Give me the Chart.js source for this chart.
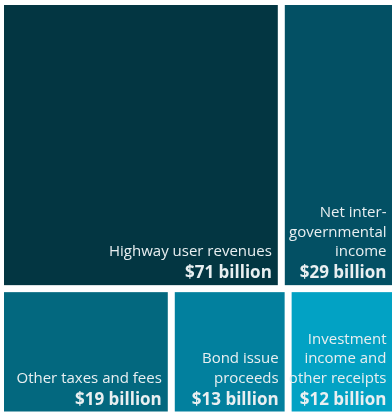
<!DOCTYPE html>
<html>
<head>
<meta charset="utf-8">
<script src="https://cdn.jsdelivr.net/npm/chart.js@4"></script>
<style>
  html, body { margin: 0; padding: 0; background: #fff; overflow: hidden; }
  #wrap { position: absolute; left: 0; top: 0; width: 396px; height: 415px; }
</style>
</head>
<body>
<div id="wrap"><canvas id="treemap"></canvas></div>
<script>
const categories = ['Highway user revenues', 'Net inter-\ngovernmental\nincome', 'Other taxes and fees', 'Bond issue\nproceeds', 'Investment\nincome and\nother receipts'];
const values = [71, 29, 19, 13, 12];
const valueLabels = values.map((v) => '$' + v + ' billion');
const colors = ['#033642', '#035064', '#03687f', '#02809e', '#02a2c4'];
const rowSizes = [2, 3]; // cells per row, top to bottom

const total = values.reduce((a, b) => a + b, 0);

// rows of cells in data units: x 0..1 across, y 0..total down
const layoutCells = () => {
  const cells = [];
  let i = 0;
  let y = 0;
  rowSizes.forEach((n) => {
    const rowVals = values.slice(i, i + n);
    const rowSum = rowVals.reduce((a, b) => a + b, 0);
    let x = 0;
    rowVals.forEach((v, k) => {
      cells.push({ x0: x, x1: x + v / rowSum, y0: y, y1: y + rowSum, index: i + k });
      x += v / rowSum;
    });
    y += rowSum;
    i += n;
  });
  return cells;
};

const treemapPlugin = {
  id: 'treemap',
  afterDatasetsDraw(chart) {
    const { ctx, scales: { x, y } } = chart;
    const gap = 3.5;
    ctx.save();
    layoutCells().forEach((c) => {
      const left = x.getPixelForValue(c.x0) + gap;
      const right = x.getPixelForValue(c.x1) - gap;
      const top = y.getPixelForValue(c.y0) + gap;
      const bottom = y.getPixelForValue(c.y1) - gap;
      ctx.fillStyle = colors[c.index];
      ctx.fillRect(left, top, right - left, bottom - top);

      ctx.fillStyle = '#e9eff1';
      ctx.textAlign = 'right';
      ctx.textBaseline = 'alphabetic';
      const tx = right - 6;
      let ty = bottom - 7;
      ctx.font = 'bold 17px "Open Sans"';
      ctx.fillText(valueLabels[c.index], tx, ty);
      ty -= 22;
      ctx.font = '15px "Open Sans"';
      const lines = categories[c.index].split('\n').reverse();
      lines.forEach((line) => {
        ctx.fillText(line, tx, ty);
        ty -= 19.5;
      });
    });
    ctx.restore();
  },
};

new Chart(document.getElementById('treemap'), {
  type: 'scatter',
  data: {
    datasets: [{ data: [] }],
  },
  options: {
    responsive: true,
    maintainAspectRatio: false,
    animation: false,
    events: [],
    layout: {
      padding: { top: 1.5, left: 0.5, right: 0, bottom: 0 },
    },
    scales: {
      x: { type: 'linear', min: 0, max: 1, display: false },
      y: { type: 'linear', min: 0, max: total, reverse: true, display: false },
    },
    plugins: {
      legend: { display: false },
      tooltip: { enabled: false },
    },
  },
  plugins: [treemapPlugin],
});
</script>
</body>
</html>
